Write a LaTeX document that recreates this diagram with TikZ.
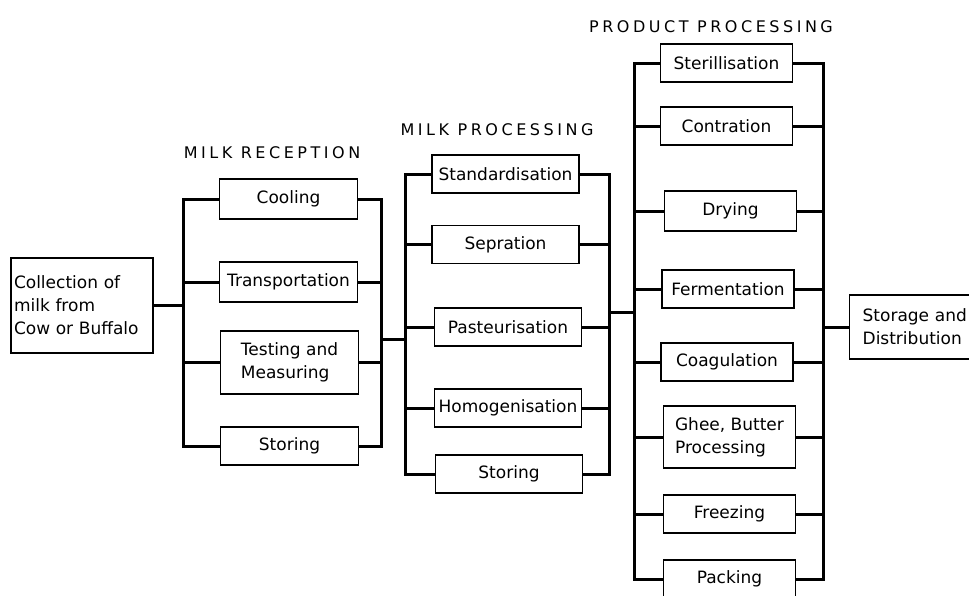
\documentclass[tikz,border=0pt]{standalone}
\usepackage{fontspec}
\setmainfont{DejaVu Sans}
\newfontfamily\headfont[LetterSpace=22]{DejaVu Sans}
\tikzset{
	box/.style={draw, line width=1.3pt, inner sep=1pt, minimum height=38pt, align=left, font=\fontsize{17}{23}\selectfont},
	rec/.style={box, minimum width=138pt},
	mil/.style={box, minimum width=147pt},
	prod/.style={box, minimum width=132pt},
	head/.style={font=\headfont\fontsize{16}{18}\selectfont},
	link/.style={line width=3pt},
}

\begin{document}
\begin{tikzpicture}[x=1pt, y=-1pt]
	\clip (0,0) rectangle (969,595);
	\node[box, minimum width=142pt, minimum height=95pt, text width=136pt] (coll) at (82,305.5) {Collection of\\milk from\\Cow or Buffalo};
	\node[head] (hrec) at (272,153) {MILK RECEPTION};
	\node[rec, minimum height=40pt] (cool) at (288.5,199) {Cooling};
	\node[rec, minimum height=40pt] (trans) at (288.5,282) {Transportation};
	\node[rec, minimum height=63pt] (test) at (289.5,362.5) {Testing and\\Measuring};
	\node[rec] (rstore) at (289.5,446) {Storing};
	\node[head] (hmil) at (497,130) {MILK PROCESSING};
	\node[mil] (std) at (505.5,174) {Standardisation};
	\node[mil] (sep) at (505.5,244.5) {Sepration};
	\node[mil] (past) at (508,327) {Pasteurisation};
	\node[mil] (homo) at (508,408) {Homogenisation};
	\node[mil] (mstore) at (509,474) {Storing};
	\node[head] (hprod) at (711,27) {PRODUCT PROCESSING};
	\node[prod] (ster) at (726.5,63) {Sterillisation};
	\node[prod] (cont) at (726.5,126) {Contration};
	\node[prod, minimum height=40pt] (dry) at (730.5,211) {Drying};
	\node[prod] (ferm) at (728,289) {Fermentation};
	\node[prod] (coag) at (727,362) {Coagulation};
	\node[prod, minimum height=62pt] (ghee) at (729.5,437) {Ghee, Butter\\Processing};
	\node[prod] (freez) at (729.5,514) {Freezing};
	\node[prod] (pack) at (729.5,579) {Packing};
	\node[box, anchor=west, minimum height=64pt, text width=124pt, inner xsep=13pt] (dist) at (849,327) {Storage and\\Distribution};
	\coordinate (b1) at (183,306);
	\coordinate (b2) at (381,339);
	\coordinate (b3) at (405,339);
	\coordinate (b4) at (609,312);
	\coordinate (b5) at (634,312);
	\coordinate (b6) at (823,327);
	\draw[link] (coll.east) -- (coll.east -| b1);
	\draw[link] (cool.west) -| (b1) |- (rstore.west);
	\draw[link] (cool.east) -| (b2) |- (rstore.east);
	\foreach \n in {trans,test}{
		\draw[link] (\n.west) -- (\n.west -| b1);
		\draw[link] (\n.east) -- (\n.east -| b2);
	}
	\draw[link] (b2) -- (b3);
	\draw[link] (std.west) -| (b3) |- (mstore.west);
	\draw[link] (std.east) -| (b4) |- (mstore.east);
	\foreach \n in {sep,past,homo}{
		\draw[link] (\n.west) -- (\n.west -| b3);
		\draw[link] (\n.east) -- (\n.east -| b4);
	}
	\draw[link] (b4) -- (b5);
	\draw[link] (ster.west) -| (b5) |- (pack.west);
	\draw[link] (ster.east) -| (b6) |- (pack.east);
	\foreach \n in {cont,dry,ferm,coag,ghee,freez}{
		\draw[link] (\n.west) -- (\n.west -| b5);
		\draw[link] (\n.east) -- (\n.east -| b6);
	}
	\draw[link] (b6) -- (dist.west);
\end{tikzpicture}
\end{document}
